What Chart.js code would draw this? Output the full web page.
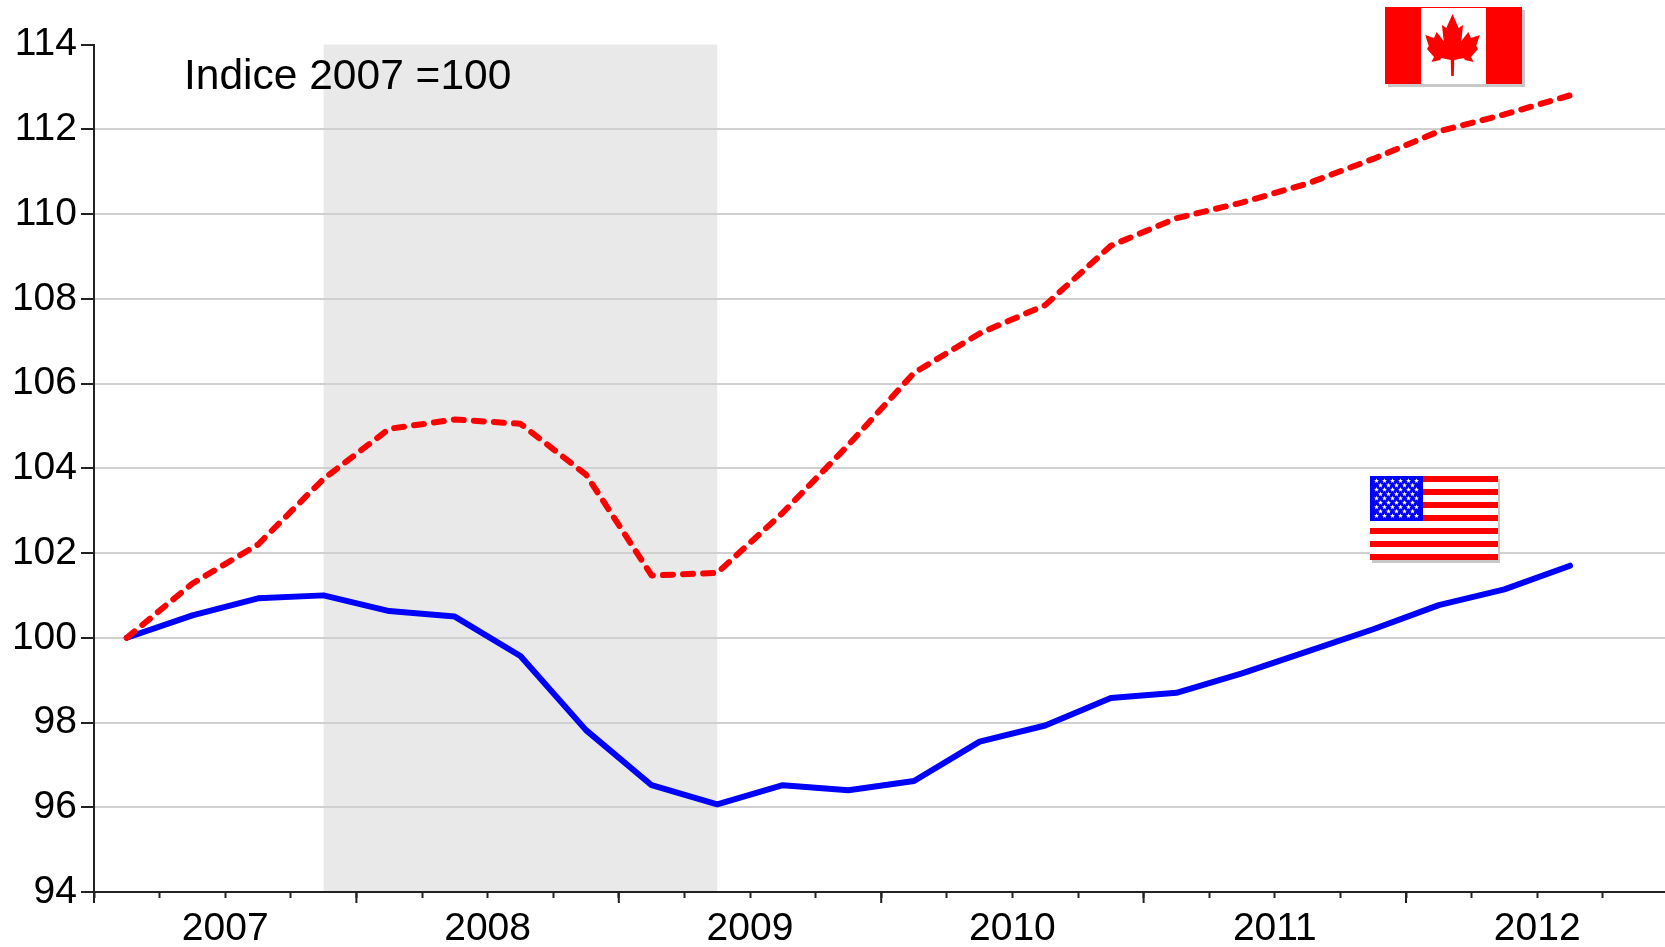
<!DOCTYPE html>
<html><head><meta charset="utf-8">
<style>html,body{margin:0;padding:0;background:#fff;overflow:hidden}canvas{display:block}</style>
<script src="https://cdn.jsdelivr.net/npm/chart.js@4"></script></head>
<body><canvas id="c" width="1665" height="947"></canvas>
<script>
const quarters = [2007.125,2007.375,2007.625,2007.875,2008.125,2008.375,2008.625,2008.875,2009.125,2009.375,2009.625,2009.875,2010.125,2010.375,2010.625,2010.875,2011.125,2011.375,2011.625,2011.875,2012.125,2012.375,2012.625];
const canada = [100,101.28,102.2,103.75,104.93,105.15,105.05,103.85,101.47,101.53,102.95,104.55,106.25,107.18,107.85,109.25,109.9,110.27,110.72,111.3,111.95,112.35,112.8];
const usa = [100,100.53,100.93,101.0,100.63,100.5,99.57,97.82,96.52,96.07,96.52,96.4,96.62,97.55,97.93,98.58,98.7,99.16,99.68,100.2,100.77,101.14,101.7];
const recession = [2007.875,2009.375];
const note = "Indice 2007 =100";
const FONT = '"Liberation Sans", Arial, sans-serif';

const toPts = v => v.map((y,i)=>({x:quarters[i],y}));

function rect(ctx,c,x,y,w,h){ctx.fillStyle=c;ctx.fillRect(x,y,w,h);}
function star(ctx,cx,cy,r){
  ctx.beginPath();
  for(let i=0;i<10;i++){const a=-Math.PI/2+i*Math.PI/5,q=i%2?r*0.42:r;
    ctx[i?'lineTo':'moveTo'](cx+q*Math.cos(a),cy+q*Math.sin(a));}
  ctx.closePath();ctx.fill();
}
function canadaFlag(ctx,x,y,w,h){
  rect(ctx,'#c8c8c8',x+3,y+3,w,h);
  rect(ctx,'#fff',x,y,w,h);
  rect(ctx,'#f00',x,y,36,h);
  rect(ctx,'#f00',x+101,y,w-101,h);
  rect(ctx,'#f00',x,y,w,1);
  const cx=x+67.5, t=y+7, sx=0.88;
  const half=[[0,0],[7,14],[12,11],[10,27],[18,18],[21,24],[31,21],[27,32],[29,35],[21,43],[24,48],[14,46],[13,44],[2,46],[1.5,62]];
  ctx.fillStyle='#f00';ctx.beginPath();
  half.forEach((p,i)=>ctx[i?'lineTo':'moveTo'](cx+p[0]*sx,t+p[1]));
  half.slice().reverse().forEach(p=>ctx.lineTo(cx-p[0]*sx,t+p[1]));
  ctx.closePath();ctx.fill();
}
function usFlag(ctx,x,y,w,h){
  rect(ctx,'#c8c8c8',x+2,y+3,w,h);
  rect(ctx,'#fff',x,y,w,h);
  const sh=h/13;
  for(let i=0;i<13;i+=2) rect(ctx,'#f00',x,Math.round(y+i*sh),w,Math.round(sh));
  const cw=53,ch=45;
  rect(ctx,'#00f',x,y,cw,ch);
  ctx.fillStyle='#fff';
  for(let r=0;r<9;r++){const n=r%2?5:6;
    for(let k=0;k<n;k++) star(ctx,x+6.5+(r%2?4:0)+k*8,y+5+r*4.35,2.6);}
}
const decorations = {
  id:'decorations',
  beforeDraw(chart){
    const {ctx,chartArea:a,scales:{x}}=chart;
    const l=x.getPixelForValue(recession[0]), r=x.getPixelForValue(recession[1]);
    rect(ctx,'#e9e9e9',l,a.top,r-l,a.bottom-a.top);
  },
  afterDraw(chart){
    const {ctx,chartArea:a,scales:{x}}=chart;
    ctx.save();
    ctx.strokeStyle='#222';ctx.lineWidth=2;
    x.ticks.forEach(t=>{ if(Number.isInteger(t.value)){const p=x.getPixelForValue(t.value);
      ctx.beginPath();ctx.moveTo(p,a.bottom);ctx.lineTo(p,a.bottom+11);ctx.stroke();}});
    ctx.fillStyle='#000';ctx.font='42.5px '+FONT;ctx.textBaseline='alphabetic';
    ctx.fillText(note,184,89);
    canadaFlag(ctx,1385,7,137,77);
    usFlag(ctx,1370,476,128,84);
    ctx.restore();
  }
};
new Chart(document.getElementById('c'),{
  type:'line',
  data:{datasets:[
    {label:'Canada',data:toPts(canada),borderColor:'#f00',borderWidth:6,borderDash:[10,10.1],borderCapStyle:'round',borderJoinStyle:'round',pointRadius:0,tension:0,fill:false},
    {label:'États-Unis',data:toPts(usa),borderColor:'#00f',borderWidth:6,borderCapStyle:'round',borderJoinStyle:'round',pointRadius:0,tension:0,fill:false}
  ]},
  options:{
    responsive:false,animation:false,
    layout:{padding:{top:44.5,left:0,right:0,bottom:0}},
    plugins:{legend:{display:false},tooltip:{enabled:false},title:{display:false}},
    scales:{
      x:{type:'linear',min:2007,max:2012.987,
        afterFit:s=>{s.height=55},
        border:{color:'#222',width:2},
        grid:{drawOnChartArea:false,drawTicks:true,tickLength:6,tickColor:'#222',tickWidth:2},
        ticks:{stepSize:0.25,includeBounds:false,autoSkip:false,maxRotation:0,minRotation:0,padding:8,color:'#000',
          font:{family:FONT,size:39},
          callback:v=>(v%1===0.5)?String(Math.floor(v)):''}
      },
      y:{type:'linear',min:94,max:114,
        afterFit:s=>{s.width=94},
        border:{color:'#222',width:2},
        grid:{color:c=>c.tick&&c.tick.value===114?'rgba(0,0,0,0)':'#d0d0d0',lineWidth:2,tickColor:'#222',tickLength:13,tickWidth:2},
        ticks:{stepSize:2,padding:4,color:'#000',font:{family:FONT,size:39}}
      }
    }
  },
  plugins:[decorations]
});
</script></body></html>
